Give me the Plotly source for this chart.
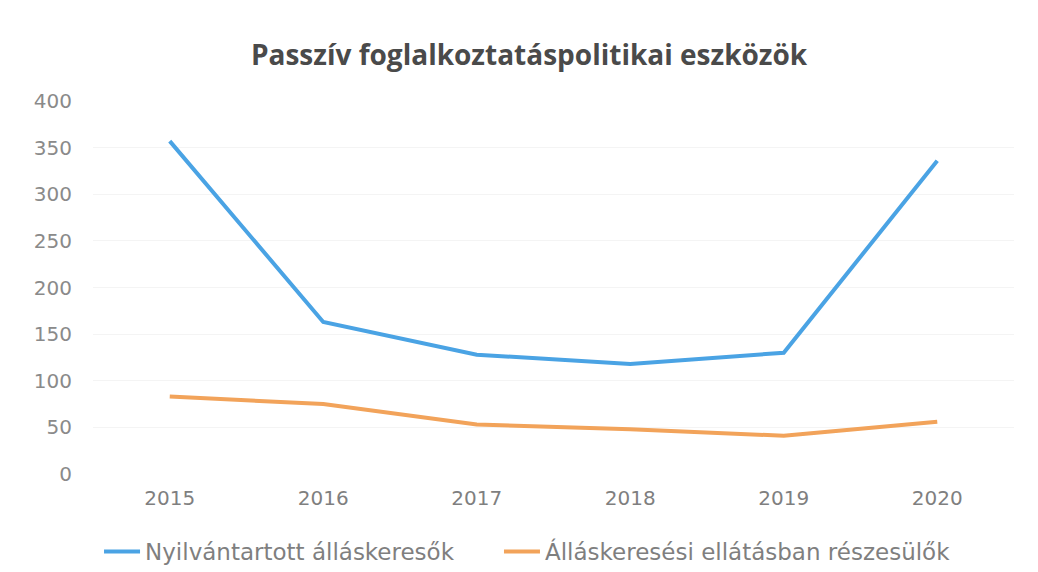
import plotly.graph_objects as go

years = ["2015", "2016", "2017", "2018", "2019", "2020"]
nyilvantartott = [357, 163, 128, 118, 130, 336]
ellatas = [83, 75, 53, 48, 41, 56]
series_names = ["Nyilvántartott álláskeresők", "Álláskeresési ellátásban részesülők"]
y_ticks = [0, 50, 100, 150, 200, 250, 300, 350, 400]

fig = go.Figure()
fig.add_trace(go.Scatter(x=years, y=nyilvantartott, mode="lines", name=series_names[0],
                         line=dict(color="#4AA3E4", width=4), legend="legend"))
fig.add_trace(go.Scatter(x=years, y=ellatas, mode="lines", name=series_names[1],
                         line=dict(color="#F2A35A", width=4), legend="legend2"))

legend_font = dict(family="DejaVu Sans, sans-serif", size=23, color="#7f7f7f")

fig.update_layout(
    width=1038, height=572,
    paper_bgcolor="white", plot_bgcolor="white",
    margin=dict(l=85, r=32, t=93, b=106, autoexpand=False),
    title=dict(text="<b>Passzív foglalkoztatáspolitikai eszközök</b>",
               x=0.502, xanchor="center", y=0.917, yanchor="middle",
               font=dict(family="Open Sans, sans-serif", size=28, color="#4a4a4a")),
    font=dict(family="DejaVu Sans, sans-serif", size=18, color="#8a8a8a"),
    xaxis=dict(type="category", range=[-0.5, 5.5], showgrid=False, showline=False,
               ticks="", ticklabelstandoff=10, tickfont=dict(size=20, color="#7f7f7f")),
    yaxis=dict(range=[0, 400], tickvals=y_ticks, showgrid=True, gridcolor="#f4f4f4",
               zeroline=False, showline=False, ticks="", ticklabelstandoff=20,
               tickfont=dict(size=20, color="#8a8a8a")),
    legend=dict(orientation="h", xref="container", x=0.0877, xanchor="left",
                y=-0.15, yanchor="top", font=legend_font, itemwidth=36),
    legend2=dict(orientation="h", xref="container", x=0.473, xanchor="left",
                 y=-0.15, yanchor="top", font=legend_font, itemwidth=36),
    showlegend=True,
)

fig.write_html("out.html")
